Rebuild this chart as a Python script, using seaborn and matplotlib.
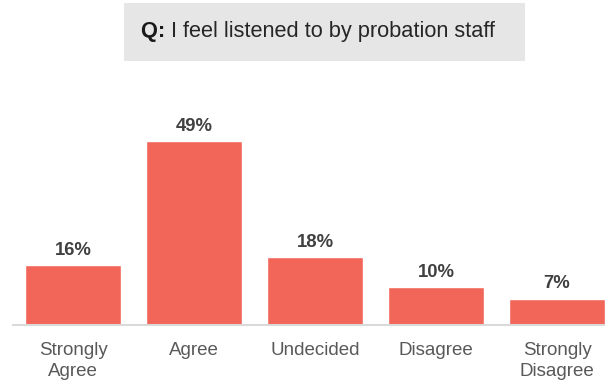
import matplotlib
matplotlib.use("Agg")
import matplotlib.pyplot as plt
import seaborn as sns
import pandas as pd
from matplotlib.patches import Rectangle

categories = ["Strongly\nAgree", "Agree", "Undecided", "Disagree", "Strongly\nDisagree"]
values = [16, 49, 18, 10, 7]
title_prefix = "Q:"
title_text = "I feel listened to by probation staff"

sns.set_theme(style="white")
plt.rcParams["font.family"] = ["Liberation Sans", "DejaVu Sans"]

bar_color = "#F2665A"
label_color = "#404040"
tick_color = "#595959"

df = pd.DataFrame({"category": categories, "value": values})

fig = plt.figure(figsize=(6.05, 3.83), dpi=100)
W, H = 605, 383
ax = fig.add_axes([12.5 / W, (H - 325) / H, 605 / W, 225.3 / H])

sns.barplot(data=df, x="category", y="value", color=bar_color,
            saturation=1, width=0.79, ax=ax)
ax.set_xlim(-0.5, 4.5)
ax.set_ylim(0, 60)

ax.bar_label(ax.containers[0], labels=[f"{v}%" for v in values],
             padding=4.5, fontsize=13.3, fontweight="bold", color=label_color)

for s in ["top", "right", "left"]:
    ax.spines[s].set_visible(False)
ax.spines["bottom"].set_color("#d9d9d9")
ax.spines["bottom"].set_linewidth(1.5)
ax.set_yticks([])
ax.set_xlabel("")
ax.set_ylabel("")
ax.tick_params(axis="x", length=0, pad=12, labelsize=13.5, labelcolor=tick_color)
for t in ax.get_xticklabels():
    t.set_linespacing(1.3)

# question banner
fig.patches.append(Rectangle((124 / W, 1 - 61 / H), (525 - 124) / W, 58 / H,
                             transform=fig.transFigure, facecolor="#e6e6e6",
                             edgecolor="none", zorder=0))
q = fig.text(141 / W, 1 - 32 / H, title_prefix + " ", fontsize=15.7,
             fontweight="bold", color="#1a1a1a", ha="left", va="center")
fig.canvas.draw()
bb = q.get_window_extent()
fig.text(bb.x1 / W, 1 - 32 / H, title_text, fontsize=15.7,
         color="#262626", ha="left", va="center")

fig.savefig("out.png", dpi=100)
